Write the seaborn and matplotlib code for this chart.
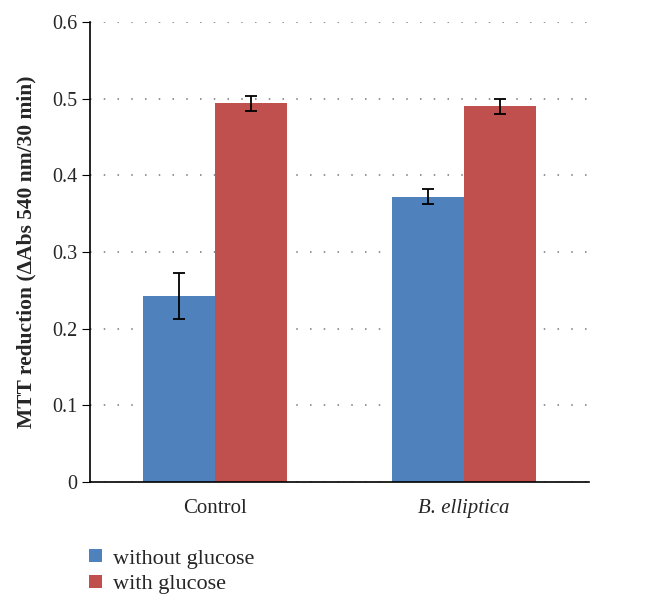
import matplotlib
matplotlib.use("Agg")
import matplotlib.pyplot as plt
import seaborn as sns
import pandas as pd
from matplotlib.patches import Patch

categories = ["Control", "B. elliptica"]
conditions = ["without glucose", "with glucose"]
without_glucose = [0.243, 0.372]
with_glucose = [0.494, 0.490]
without_err = [0.030, 0.010]
with_err = [0.010, 0.010]
colors = ["#4F81BD", "#C0504D"]

df = pd.DataFrame({
    "Sample": categories * 2,
    "Condition": [conditions[0]] * 2 + [conditions[1]] * 2,
    "Value": without_glucose + with_glucose,
})

sns.set_style("white")
plt.rcParams["font.family"] = ["Liberation Serif", "DejaVu Serif"]

fig = plt.figure(figsize=(6.47, 6.08), dpi=100)
ax = fig.add_axes([0.139, 0.207, 0.771, 0.757])

sns.barplot(data=df, x="Sample", y="Value", hue="Condition", order=categories,
            hue_order=conditions, palette=colors, errorbar=None, width=0.578,
            saturation=1, linewidth=0, ax=ax, legend=False)

for cont, errs in zip(ax.containers, [without_err, with_err]):
    xs = [p.get_x() + p.get_width() / 2 for p in cont]
    ys = [p.get_height() for p in cont]
    ax.errorbar(xs, ys, yerr=errs, fmt="none", ecolor="black", elinewidth=1.3,
                capsize=4, capthick=1.3, zorder=5)

ax.set_xlim(-0.5, 1.5)
ax.set_ylim(0, 0.6)
ax.set_yticks([0, 0.1, 0.2, 0.3, 0.4, 0.5, 0.6])
ax.set_yticklabels(["0", "0.1", "0.2", "0.3", "0.4", "0.5", "0.6"], fontsize=14.5)
ax.yaxis.grid(True, linestyle=(0, (1, 8)), color="#777777", linewidth=1.1)
ax.set_axisbelow(True)

ax.set_xticks([0, 1])
ax.set_xticklabels(categories, fontsize=15)
ax.get_xticklabels()[1].set_style("italic")
ax.set_xticks([-0.5, 0.5, 1.5], minor=True)
ax.tick_params(axis="x", which="major", length=0, pad=12)
ax.tick_params(axis="x", which="minor", length=6, direction="out", color="black")
ax.tick_params(axis="y", length=6, direction="out", color="black", left=True, pad=3)

ax.set_xlabel("")
ax.set_ylabel("MTT reduction (ΔAbs 540 nm/30 min)", fontsize=15.5, fontweight="bold",
              labelpad=11)
for s in ["top", "right"]:
    ax.spines[s].set_visible(False)
for s in ["left", "bottom"]:
    ax.spines[s].set_color("black")
    ax.spines[s].set_linewidth(1.2)

handles = [Patch(facecolor=c, edgecolor="none") for c in colors]
fig.legend(handles, conditions, loc="upper left", bbox_to_anchor=(0.138, 0.097),
           frameon=False, fontsize=16, handlelength=0.55, handleheight=0.55,
           handletextpad=0.5, labelspacing=0.28, borderpad=0, borderaxespad=0)

fig.savefig("out.png", dpi=100)
